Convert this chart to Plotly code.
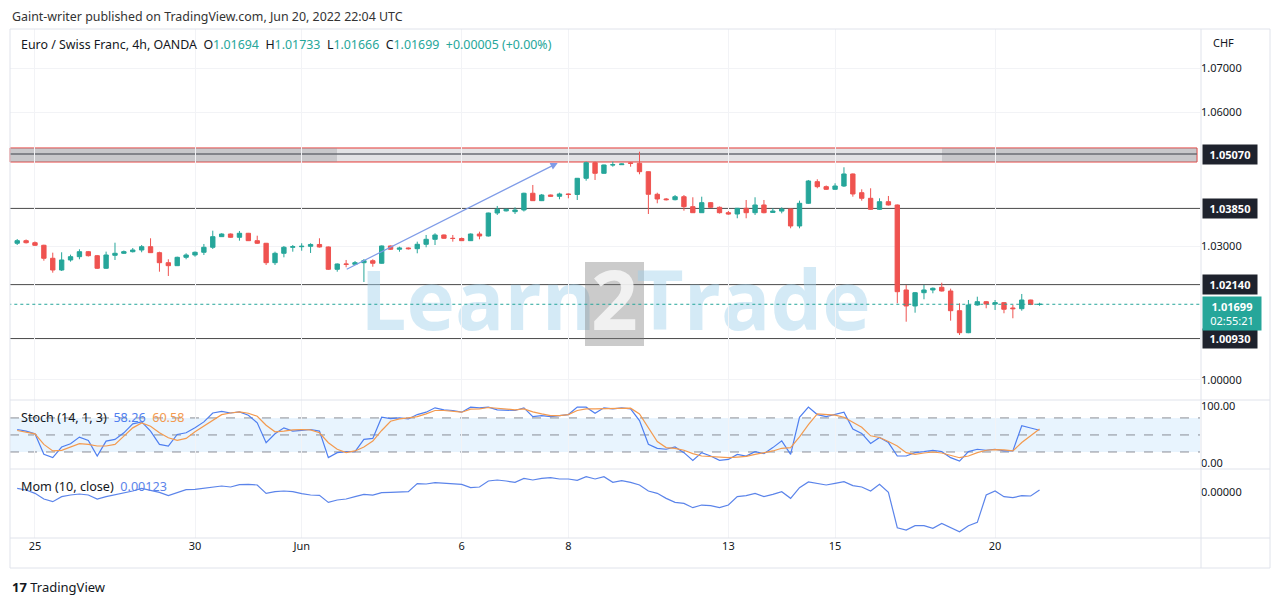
import plotly.graph_objects as go

# ---------------- data ----------------
bar_index = list(range(116))

opens = [1.03068, 1.03126, 1.03081, 1.03023, 1.02731, 1.02468, 1.02693, 1.02767, 1.02879, 1.02789,
         1.02507, 1.02798, 1.02843, 1.02879, 1.02917, 1.02991, 1.02857, 1.02632, 1.02565, 1.02753,
         1.02805, 1.02866, 1.02978, 1.03216, 1.03276, 1.03202, 1.03292, 1.03126, 1.03068, 1.02632,
         1.02843, 1.02978, 1.02991, 1.03000, 1.03041, 1.02985, 1.02484, 1.02603, 1.02596, 1.02632,
         1.02677, 1.02619, 1.03007, 1.02933, 1.02962, 1.02946, 1.03045, 1.03157, 1.03254, 1.03180,
         1.03175, 1.03126, 1.03276, 1.03231, 1.03747, 1.03795, 1.03777, 1.03815, 1.04190, 1.04024,
         1.04151, 1.04122, 1.04174, 1.04163, 1.04526, 1.04876, 1.04638, 1.04825, 1.04831, 1.04870,
         1.04863, 1.04674, 1.04167, 1.04062, 1.04046, 1.04113, 1.03889, 1.03754, 1.03979, 1.03875,
         1.03754, 1.03725, 1.03853, 1.03754, 1.03927, 1.03760, 1.03790, 1.03837, 1.03456, 1.03965,
         1.04450, 1.04338, 1.04279, 1.04353, 1.04623, 1.04203, 1.04077, 1.03830, 1.04001, 1.03927,
         1.02020, 1.01661, 1.01959, 1.02020, 1.02080, 1.01997, 1.01555, 1.01061, 1.01683, 1.01757,
         1.01705, 1.01735, 1.01616, 1.01600, 1.01795, 1.01694]

highs = [1.03164, 1.03153, 1.03108, 1.03035, 1.02857, 1.02866, 1.02812, 1.02933, 1.02895, 1.02805,
         1.02880, 1.03081, 1.02906, 1.02962, 1.03029, 1.03180, 1.02879, 1.02709, 1.02767, 1.02843,
         1.02884, 1.03052, 1.03350, 1.03292, 1.03287, 1.03344, 1.03300, 1.03238, 1.03075, 1.02879,
         1.03007, 1.03029, 1.03068, 1.03068, 1.03180, 1.02995, 1.02614, 1.02693, 1.02670, 1.02715,
         1.02709, 1.03018, 1.03018, 1.02991, 1.02973, 1.03104, 1.03254, 1.03292, 1.03265, 1.03254,
         1.03198, 1.03287, 1.03328, 1.03754, 1.03905, 1.03844, 1.03875, 1.04203, 1.04376, 1.04174,
         1.04160, 1.04203, 1.04185, 1.04533, 1.04899, 1.04899, 1.04831, 1.04899, 1.04858, 1.04885,
         1.05123, 1.04680, 1.04203, 1.04084, 1.04151, 1.04151, 1.04100, 1.04113, 1.03994, 1.03893,
         1.03792, 1.03860, 1.04039, 1.04100, 1.04039, 1.03853, 1.03875, 1.03848, 1.04024, 1.04488,
         1.04504, 1.04365, 1.04414, 1.04773, 1.04634, 1.04279, 1.04302, 1.04077, 1.04129, 1.03938,
         1.02132, 1.01975, 1.02132, 1.02076, 1.02183, 1.02049, 1.01721, 1.01795, 1.01869, 1.01773,
         1.01795, 1.01750, 1.01683, 1.01930, 1.01800, 1.01733]

lows = [1.03029, 1.03063, 1.03007, 1.02677, 1.02408, 1.02446, 1.02655, 1.02709, 1.02771, 1.02491,
        1.02491, 1.02693, 1.02827, 1.02861, 1.02866, 1.02850, 1.02430, 1.02334, 1.02558, 1.02709,
        1.02767, 1.02805, 1.02940, 1.03209, 1.03191, 1.03126, 1.03119, 1.03052, 1.02581, 1.02581,
        1.02753, 1.02879, 1.02901, 1.02850, 1.02973, 1.02468, 1.02430, 1.02529, 1.02590, 1.02199,
        1.02542, 1.02610, 1.02917, 1.02879, 1.02928, 1.02843, 1.02978, 1.03029, 1.03168, 1.03104,
        1.03119, 1.03119, 1.03157, 1.03220, 1.03703, 1.03781, 1.03725, 1.03781, 1.04017, 1.04015,
        1.04113, 1.04055, 1.04077, 1.04039, 1.04472, 1.04488, 1.04630, 1.04786, 1.04825, 1.04786,
        1.04616, 1.03725, 1.03965, 1.04028, 1.04030, 1.03799, 1.03747, 1.03747, 1.03860, 1.03736,
        1.03709, 1.03629, 1.03629, 1.03703, 1.03740, 1.03750, 1.03740, 1.03404, 1.03404, 1.03949,
        1.04302, 1.04264, 1.04270, 1.04331, 1.04113, 1.04024, 1.03822, 1.03815, 1.03916, 1.01721,
        1.01308, 1.01510, 1.01811, 1.01946, 1.01986, 1.01331, 1.01010, 1.01050, 1.01667, 1.01609,
        1.01571, 1.01497, 1.01385, 1.01555, 1.01680, 1.01666]

closes = [1.03126, 1.03081, 1.03023, 1.02731, 1.02468, 1.02693, 1.02767, 1.02879, 1.02789, 1.02507,
          1.02805, 1.02843, 1.02879, 1.02917, 1.02991, 1.02857, 1.02632, 1.02565, 1.02753, 1.02805,
          1.02866, 1.02978, 1.03216, 1.03276, 1.03202, 1.03292, 1.03126, 1.03068, 1.02632, 1.02843,
          1.02978, 1.02991, 1.03000, 1.03041, 1.02985, 1.02484, 1.02603, 1.02596, 1.02632, 1.02677,
          1.02619, 1.03007, 1.02933, 1.02962, 1.02946, 1.03045, 1.03157, 1.03254, 1.03180, 1.03175,
          1.03126, 1.03276, 1.03231, 1.03747, 1.03830, 1.03830, 1.03815, 1.04190, 1.04024, 1.04151,
          1.04122, 1.04174, 1.04163, 1.04526, 1.04876, 1.04638, 1.04825, 1.04831, 1.04847, 1.04863,
          1.04674, 1.04167, 1.04062, 1.04046, 1.04113, 1.03889, 1.03754, 1.03979, 1.03875, 1.03754,
          1.03725, 1.03853, 1.03754, 1.03927, 1.03754, 1.03790, 1.03837, 1.03456, 1.03965, 1.04466,
          1.04338, 1.04279, 1.04353, 1.04623, 1.04174, 1.04077, 1.03830, 1.04001, 1.03927, 1.01981,
          1.01661, 1.01959, 1.02020, 1.02058, 1.01997, 1.01555, 1.01061, 1.01683, 1.01757, 1.01705,
          1.01735, 1.01587, 1.01600, 1.01795, 1.01694, 1.01699]

stoch_k = [59.6, 56.7, 52.0, 15.9, 10.1, 28.7, 34.6, 46.2, 40.4, 13.0,
           39.2, 42.1, 53.8, 69.5, 73.0, 56.7, 33.4, 30.5, 50.9, 53.8,
           62.5, 73.0, 88.7, 91.7, 88.7, 90.5, 84.7, 71.3, 36.3, 52.0,
           62.5, 56.7, 57.9, 59.6, 56.7, 10.1, 18.8, 20.6, 20.6, 42.1,
           43.9, 81.2, 78.8, 80.0, 78.2, 85.9, 90.1, 97.8, 94.3, 93.1,
           90.1, 99.0, 97.8, 99.0, 94.3, 93.1, 93.1, 97.8, 82.4, 84.2,
           82.4, 84.2, 85.9, 99.0, 99.0, 88.3, 97.8, 96.0, 97.8, 96.0,
           75.2, 33.7, 26.5, 24.8, 28.9, 18.8, 5.2, 18.8, 12.9, 5.2,
           6.9, 15.8, 12.9, 20.6, 17.0, 27.7, 39.6, 15.8, 81.2, 99.0,
           85.9, 82.4, 85.9, 90.1, 60.4, 52.7, 34.9, 45.5, 36.6, 12.9,
           12.9, 18.8, 20.6, 23.0, 20.6, 10.0, 4.0, 20.6, 24.8, 23.0,
           24.8, 21.8, 21.8, 66.3, 62.2, 58.26]

stoch_d = [57.9, 55.5, 52.0, 33.4, 21.8, 22.9, 28.7, 34.6, 33.4, 30.5,
           30.5, 33.4, 48.0, 62.5, 71.3, 65.4, 53.8, 45.0, 40.4, 43.9,
           55.5, 65.4, 75.3, 85.8, 88.7, 90.5, 88.2, 82.9, 67.2, 55.5,
           56.7, 59.0, 59.6, 59.0, 53.8, 36.3, 24.7, 18.8, 21.8, 28.7,
           39.2, 57.9, 74.2, 78.2, 80.0, 82.4, 87.1, 93.1, 93.1, 91.9,
           90.1, 95.4, 96.0, 98.4, 96.6, 95.4, 94.3, 96.0, 90.7, 87.1,
           84.2, 84.2, 85.9, 93.1, 96.0, 96.0, 96.0, 96.0, 96.6, 97.2,
           87.1, 63.4, 38.4, 27.7, 26.5, 23.0, 17.0, 12.9, 12.3, 11.1,
           9.9, 11.1, 12.3, 15.8, 18.2, 21.8, 26.5, 27.7, 46.7, 68.1,
           87.1, 85.9, 84.8, 81.2, 72.3, 63.4, 48.5, 45.5, 38.4, 30.7,
           18.8, 15.8, 18.2, 20.0, 18.2, 14.7, 9.9, 12.9, 18.8, 23.0,
           24.2, 23.6, 21.8, 36.6, 48.5, 60.58]

momentum = [0.00239, 0.00124, -0.00106, -0.00496, -0.0068, -0.00335, -0.00221, -0.00152, -0.00221, -0.00496,
            -0.00335, -0.00221, -0.00106, 0.00055, 0.00239, 0.00124, -0.00037, -0.00266, -0.00083, 0.00147,
            0.0017, 0.00262, 0.00354, 0.004, 0.00331, 0.00492, 0.00515, 0.00469, -0.00106, 0.00009,
            0.00055, 0.00009, -0.00129, -0.00221, -0.00244, -0.00726, -0.00565, -0.00496, -0.00335, -0.00175,
            -0.00221, -0.0006, -0.00037, -0.00037, 0.00009, 0.00561, 0.00538, 0.00629, 0.00584, 0.00515,
            0.00515, 0.00285, 0.00331, 0.00744, 0.00813, 0.00744, 0.00652, 0.00928, 0.00813, 0.00928,
            0.00974, 0.00882, 0.00882, 0.0079, 0.01043, 0.00882, 0.01043, 0.00652, 0.00767, 0.00652,
            0.00469, 0.00055, -0.00106, -0.0045, -0.00726, -0.00795, -0.01093, -0.0091, -0.00956, -0.01093,
            -0.0091, -0.00335, -0.00266, -0.00106, -0.00335, -0.00175, 0.00009, -0.0045, 0.00285, 0.00675,
            0.00561, 0.00469, 0.00584, 0.00698, 0.00423, 0.00331, 0.00055, 0.00515, -0.00037, -0.02472,
            -0.02633, -0.02334, -0.02334, -0.02518, -0.02173, -0.02472, -0.02748, -0.02334, -0.02104, -0.00221,
            0.00055, -0.00335, -0.00404, -0.00266, -0.00289, 0.00123]

day_tick_index = [2, 20, 32, 50, 62, 80, 92, 110]
day_tick_text = ["25", "30", "Jun", "6", "8", "13", "15", "20"]
price_ticks = [1.00, 1.03, 1.06, 1.07]
level_prices = [1.0385, 1.0214, 1.0093]
zone_low, zone_mid, zone_high = 1.04892, 1.0507, 1.05206
last_price = 1.01699
countdown = "02:55:21"
arrow_from = (36.9, 1.02468)
arrow_to = (60.8, 1.04869)
stoch_levels = [80, 50, 20]

# ---------------- styling ----------------
W, H = 1280, 606
ML, MR, MT, MB = 10, 80, 29, 68
PW, PH = W - ML - MR, H - MT - MB
UP, DOWN = "#26a69a", "#ef5350"
K_COL, D_COL, MOM_COL = "#4f7ff0", "#f39a4f", "#5b84ea"
GRID = "#f2f3f6"
FRAME = "#e0e3eb"
TXT = "#131722"
FONT = "Noto Sans"


def px_x(px):
    return (px - ML) / PW


def px_y(py):
    return (H - MB - py) / PH


main_dom = [px_y(400), 1.0]
stoch_dom = [px_y(469), px_y(400)]
mom_dom = [0.0, px_y(469)]

fig = go.Figure()

fig.add_trace(go.Candlestick(
    x=bar_index, open=opens, high=highs, low=lows, close=closes,
    increasing=dict(line=dict(color=UP, width=1), fillcolor=UP),
    decreasing=dict(line=dict(color=DOWN, width=1), fillcolor=DOWN),
    whiskerwidth=0, hoverinfo="skip", xaxis="x", yaxis="y", showlegend=False,
))

# last price dotted line
fig.add_trace(go.Scatter(x=[-1, 140], y=[last_price, last_price], mode="lines",
                         line=dict(color=UP, width=1, dash="dot"), hoverinfo="skip",
                         showlegend=False, xaxis="x", yaxis="y"))

fig.add_trace(go.Scatter(x=bar_index, y=stoch_k, mode="lines", line=dict(color=K_COL, width=1.2),
                         hoverinfo="skip", showlegend=False, xaxis="x", yaxis="y2"))
fig.add_trace(go.Scatter(x=bar_index, y=stoch_d, mode="lines", line=dict(color=D_COL, width=1.2),
                         hoverinfo="skip", showlegend=False, xaxis="x", yaxis="y2"))
fig.add_trace(go.Scatter(x=bar_index, y=momentum, mode="lines", line=dict(color=MOM_COL, width=1.2),
                         hoverinfo="skip", showlegend=False, xaxis="x", yaxis="y3"))

shapes = []
# stoch band + dashed levels
shapes.append(dict(type="rect", xref="paper", yref="y2", x0=0, x1=1, y0=stoch_levels[2], y1=stoch_levels[0],
                   fillcolor="rgba(33,150,243,0.10)", line=dict(width=0), layer="below"))
for lv in stoch_levels:
    shapes.append(dict(type="line", xref="paper", yref="y2", x0=0, x1=1, y0=lv, y1=lv,
                       line=dict(color="#8a8d96", width=1, dash="dash"), layer="below"))

# support / resistance lines
for lv in level_prices:
    shapes.append(dict(type="line", xref="paper", yref="y", x0=0, x1=1, y0=lv, y1=lv,
                       line=dict(color="#4a4a4a", width=1), layer="below"))

# resistance zone
shapes.append(dict(type="rect", xref="paper", yref="y", x0=0, x1=px_x(1197), y0=zone_low, y1=zone_high,
                   fillcolor="#e3e3e5", line=dict(color="#e53935", width=1), layer="below"))
shapes.append(dict(type="rect", xref="paper", yref="y", x0=0, x1=px_x(337), y0=zone_low, y1=zone_high,
                   fillcolor="rgba(150,150,155,0.35)", line=dict(width=0), layer="below"))
shapes.append(dict(type="rect", xref="paper", yref="y", x0=px_x(942), x1=px_x(1197), y0=zone_low, y1=zone_high,
                   fillcolor="rgba(150,150,155,0.35)", line=dict(width=0), layer="below"))
shapes.append(dict(type="line", xref="paper", yref="y", x0=0, x1=px_x(1197), y0=zone_mid, y1=zone_mid,
                   line=dict(color="#6b6e74", width=1.5), layer="below"))

# watermark (below data)
wm_col = "rgba(160,208,236,0.45)"
shapes.append(dict(type="rect", xref="paper", yref="paper", x0=px_x(372), x1=px_x(584), y0=px_y(346), y1=px_y(262),
                   line=dict(width=0), fillcolor="rgba(0,0,0,0)", layer="below",
                   label=dict(text="<b>Learn</b>", font=dict(size=82, color=wm_col, family="Open Sans"),
                              textposition="middle center")))
shapes.append(dict(type="rect", xref="paper", yref="paper", x0=px_x(585), x1=px_x(644), y0=px_y(346), y1=px_y(262),
                   line=dict(width=0), fillcolor="rgba(125,125,125,0.40)", layer="below",
                   label=dict(text="<b>2</b>", font=dict(size=82, color="rgba(245,245,245,0.9)", family="Open Sans"),
                              textposition="middle center")))
shapes.append(dict(type="rect", xref="paper", yref="paper", x0=px_x(645), x1=px_x(862), y0=px_y(346), y1=px_y(262),
                   line=dict(width=0), fillcolor="rgba(0,0,0,0)", layer="below",
                   label=dict(text="<b>Trade</b>", font=dict(size=82, color=wm_col, family="Open Sans"),
                              textposition="middle center")))

# frame lines
x_end = px_x(1270)
y_bot = px_y(568)
for yy in [1.0, px_y(400), px_y(469), 0.0, y_bot]:
    shapes.append(dict(type="line", xref="paper", yref="paper", x0=0, x1=x_end, y0=yy, y1=yy,
                       line=dict(color=FRAME, width=1), layer="above"))
for xx in [0.0, px_x(1201), x_end]:
    shapes.append(dict(type="line", xref="paper", yref="paper", x0=xx, x1=xx, y0=y_bot, y1=1.0,
                       line=dict(color=FRAME, width=1), layer="above"))

annotations = []
annotations.append(dict(xref="paper", yref="paper", x=0, y=px_y(16), xanchor="left", yanchor="middle",
                        text="Gaint-writer published on TradingView.com, Jun 20, 2022 22:04 UTC",
                        showarrow=False, font=dict(size=12.4, color="#333333", family=FONT)))
g = UP
legend_txt = ("Euro / Swiss Franc, 4h, OANDA  O<span style='color:%s'>1.01694</span>  "
              "H<span style='color:%s'>1.01733</span>  L<span style='color:%s'>1.01666</span>  "
              "C<span style='color:%s'>1.01699</span>  <span style='color:%s'>+0.00005 (+0.00%%)</span>"
              % (g, g, g, g, g))
annotations.append(dict(xref="paper", yref="paper", x=px_x(19), y=px_y(45), xanchor="left", yanchor="middle",
                        text=legend_txt, showarrow=False, font=dict(size=12.4, color=TXT, family=FONT)))
annotations.append(dict(xref="paper", yref="paper", x=px_x(19), y=px_y(417), xanchor="left", yanchor="middle",
                        text="Stoch (14, 1, 3)  <span style='color:%s'>%.2f</span>  <span style='color:%s'>%.2f</span>"
                             % (K_COL, stoch_k[-1], D_COL, stoch_d[-1]),
                        showarrow=False, font=dict(size=12.6, color=TXT, family=FONT)))
annotations.append(dict(xref="paper", yref="paper", x=px_x(19), y=px_y(486), xanchor="left", yanchor="middle",
                        text="Mom (10, close)  <span style='color:%s'>%.5f</span>" % (MOM_COL, momentum[-1]),
                        showarrow=False, font=dict(size=12.6, color=TXT, family=FONT)))
annotations.append(dict(xref="paper", yref="paper", x=px_x(1211), y=px_y(42), xanchor="left", yanchor="middle",
                        text="CHF", showarrow=False, font=dict(size=11, color=TXT, family=FONT)))
annotations.append(dict(xref="paper", yref="paper", x=0, y=px_y(587), xanchor="left", yanchor="middle",
                        text="<b>17</b> TradingView", showarrow=False,
                        font=dict(size=13, color="#131722", family=FONT)))

# price labels on the right scale
for lv in [zone_mid] + level_prices:
    annotations.append(dict(xref="paper", yref="y", x=px_x(1202), y=lv, xanchor="left", yanchor="middle",
                            text="<b>%.5f</b>" % lv, showarrow=False, bgcolor="#1e222d",
                            font=dict(size=11, color="white", family=FONT), borderpad=2,
                            width=50, align="center"))
annotations.append(dict(xref="paper", yref="y", x=px_x(1202), y=last_price, xanchor="left", yanchor="top",
                        yshift=8, text="<b>%.5f</b><br>%s" % (last_price, countdown), showarrow=False,
                        bgcolor=UP, font=dict(size=11, color="white", family=FONT), borderpad=2,
                        width=54, align="center"))

# drawn arrow
annotations.append(dict(xref="x", yref="y", axref="x", ayref="y", x=arrow_to[0], y=arrow_to[1],
                        ax=arrow_from[0], ay=arrow_from[1], showarrow=True, arrowhead=2, arrowsize=1.2,
                        arrowwidth=1.2, arrowcolor="#7f9ce8", text=""))

x_range = [-0.81, 133.05]
fig.update_layout(
    width=W, height=H, margin=dict(l=ML, r=MR, t=MT, b=MB, autoexpand=False),
    paper_bgcolor="white", plot_bgcolor="white", showlegend=False,
    font=dict(family=FONT, color=TXT, size=11),
    xaxis=dict(domain=[0, 1], range=x_range, anchor="y3", tickmode="array", tickvals=day_tick_index,
               ticktext=day_tick_text, showgrid=True, gridcolor=GRID, zeroline=False, showline=False,
               ticks="", tickfont=dict(size=11, color=TXT), rangeslider=dict(visible=False), fixedrange=True),
    yaxis=dict(domain=main_dom, range=[0.99551, 1.07876], side="right", anchor="x", tickmode="array",
               tickvals=price_ticks, ticktext=["%.5f" % t for t in price_ticks], showgrid=True, gridcolor=GRID,
               zeroline=False, ticks="", tickfont=dict(size=11, color=TXT)),
    yaxis2=dict(domain=stoch_dom, range=[-10, 111.6], side="right", anchor="x", tickmode="array",
                tickvals=[0, 100], ticktext=["0.00", "100.00"], showgrid=False, zeroline=False, ticks="",
                tickfont=dict(size=11, color=TXT)),
    yaxis3=dict(domain=mom_dom, range=[-0.0318, 0.0157], side="right", anchor="x", tickmode="array",
                tickvals=[0], ticktext=["0.00000"], showgrid=False, zeroline=False, ticks="",
                tickfont=dict(size=11, color=TXT)),
    shapes=shapes, annotations=annotations,
)

fig.write_html("out.html")
